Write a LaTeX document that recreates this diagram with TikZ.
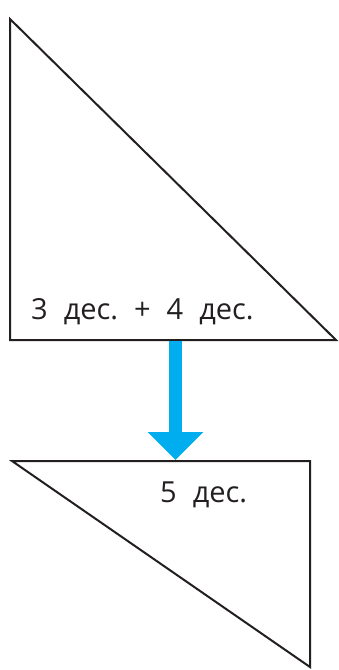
\documentclass[tikz,border=0pt]{standalone}
\usepackage{fontspec}
\setmainfont{Open Sans}
\usetikzlibrary{arrows.meta}
\definecolor{blu}{RGB}{0,174,239}
\definecolor{inchiostro}{RGB}{35,31,32}
\newcommand{\gap}{\hspace{16pt}}
\begin{document}
\begin{tikzpicture}[x=1pt, y=-1pt, line join=miter]
  \useasboundingbox (0,0) rectangle (339,670);
  \tikzset{lato/.style={line width=2pt, draw=inchiostro},
           testo/.style={anchor=base west, inner sep=0pt, text=inchiostro, font=\fontsize{29}{34}\selectfont}}

  % triangolo in alto
  \coordinate (A) at (10,19);
  \coordinate (B) at (10,340);
  \coordinate (C) at (336,340);
  \draw[lato] (A) -- (B) -- (C) -- cycle;
  \node[testo] (somma) at (31,319) {3\gap дес.\gap +\gap 4\gap дес.};

  % triangolo in basso
  \coordinate (D) at (12,461);
  \coordinate (E) at (310,461);
  \coordinate (F) at (310,667);
  \draw[lato] (D) -- (E) -- (F) -- cycle;
  \node[testo] (risultato) at (160,502) {5\gap дес.};

  % freccia
  \coordinate (su) at (175.5,341);
  \coordinate (giu) at (175.5,460);
  \draw[blu, line width=13pt, -{Triangle[width=54pt, length=28pt]}] (su) -- (giu);
\end{tikzpicture}
\end{document}
